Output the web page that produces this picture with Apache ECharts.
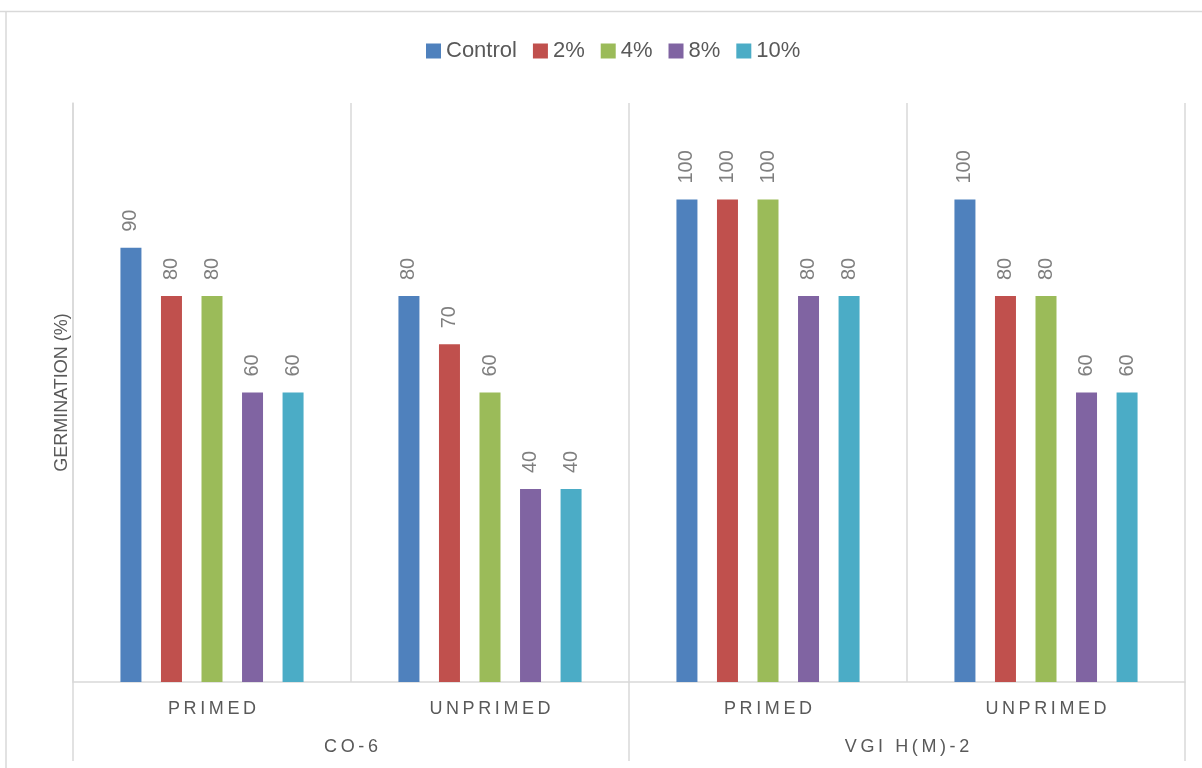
<!DOCTYPE html>
<html>
<head>
<meta charset="utf-8">
<title>Germination (%)</title>
<script src="https://cdn.jsdelivr.net/npm/echarts@6/dist/echarts.min.js"></script>
<style>
  html, body { margin: 0; padding: 0; background: #ffffff; }
  #chart { width: 1202px; height: 768px; }
</style>
</head>
<body>
<div id="chart"></div>
<script>
// Treatment level (first axis row) and variety (second axis row)
var categories = ['PRIMED', 'UNPRIMED', 'PRIMED', 'UNPRIMED'];
var varieties = ['CO-6', 'VGI H(M)-2'];

// Germination (%) per concentration
var seriesNames = ['Control', '2%', '4%', '8%', '10%'];
var control = [90, 80, 100, 100];
var conc2 = [80, 70, 100, 80];
var conc4 = [80, 60, 100, 80];
var conc8 = [60, 40, 80, 60];
var conc10 = [60, 40, 80, 60];

var colors = ['#4f81bd', '#c0504d', '#9bbb59', '#8064a2', '#4bacc6'];
var FONT = "'Liberation Sans', Arial, sans-serif";
var LINE = '#d9d9d9';

// spread the letters of an axis label apart
function spaced(s) { return s.split('').join('\u2009'); }

var values = [control, conc2, conc4, conc8, conc10];
var series = values.map(function (data, i) {
  return {
    name: seriesNames[i],
    type: 'bar',
    data: data,
    barWidth: 21,
    barGap: '93%',
    itemStyle: { color: colors[i] },
    label: {
      show: true,
      position: 'top',
      rotate: 90,
      align: 'left',
      verticalAlign: 'middle',
      distance: 16,
      color: '#7f7f7f',
      fontFamily: FONT,
      fontSize: 20
    }
  };
});

var chart = echarts.init(document.getElementById('chart'));
chart.setOption({
  animation: false,
  color: colors,
  graphic: [
    { type: 'line', shape: { x1: 0, y1: 11.5, x2: 1202, y2: 11.5 }, style: { stroke: LINE, lineWidth: 1.5 }, silent: true },
    { type: 'line', shape: { x1: 6, y1: 11.5, x2: 6, y2: 768 }, style: { stroke: LINE, lineWidth: 1.5 }, silent: true }
  ],
  legend: {
    data: seriesNames,
    left: 421,
    top: 35,
    icon: 'rect',
    itemWidth: 15,
    itemHeight: 15,
    itemGap: 16,
    itemTextGap: 4,
    textStyle: { color: '#595959', fontSize: 22, fontFamily: FONT }
  },
  grid: { left: 73, right: 17, top: 103, bottom: 86, containLabel: false },
  xAxis: [
    {
      type: 'category',
      data: categories,
      position: 'bottom',
      axisLine: { show: true, lineStyle: { color: LINE, width: 1.5 } },
      axisTick: { show: false },
      splitLine: { show: true, lineStyle: { color: LINE, width: 1.5 } },
      axisLabel: {
        margin: 18,
        color: '#595959',
        fontSize: 18,
        fontFamily: FONT,
        formatter: spaced
      }
    },
    {
      type: 'category',
      data: varieties,
      position: 'bottom',
      axisLine: { show: false },
      axisTick: { show: true, length: 79, lineStyle: { color: LINE, width: 1.5 } },
      splitLine: { show: false },
      axisLabel: {
        margin: 56,
        color: '#595959',
        fontSize: 18,
        fontFamily: FONT,
        formatter: spaced
      }
    }
  ],
  yAxis: {
    type: 'value',
    min: 0,
    max: 120,
    name: 'GERMINATION (%)',
    nameLocation: 'middle',
    nameGap: 2,
    nameTextStyle: { color: '#595959', fontSize: 18, fontFamily: FONT },
    axisLine: { show: true, lineStyle: { color: LINE, width: 1.5 } },
    axisTick: { show: false },
    axisLabel: { show: false },
    splitLine: { show: false }
  },
  series: series
});
</script>
</body>
</html>
